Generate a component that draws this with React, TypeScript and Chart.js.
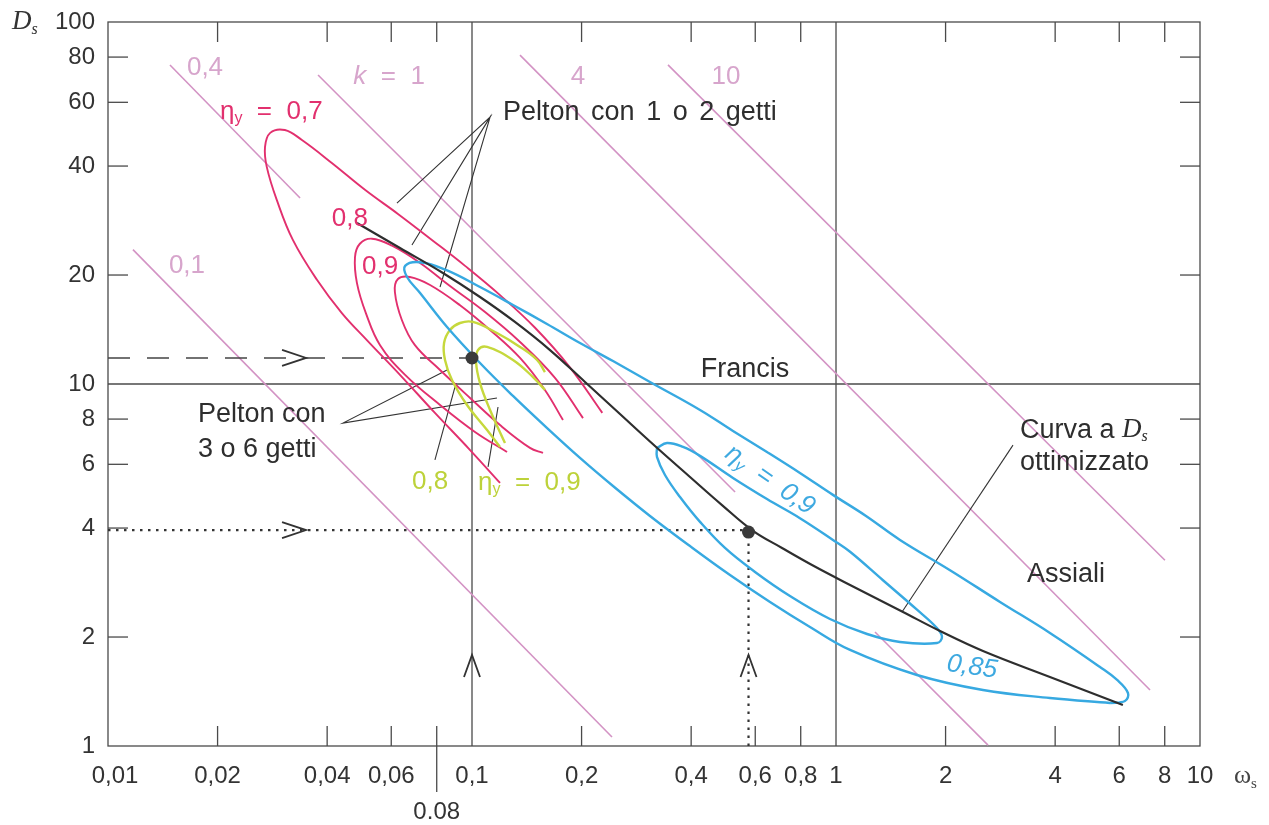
import { useEffect, useRef } from "react";
import { Chart, registerables } from "chart.js";

Chart.register(...registerables);

// ---------- axes ----------
const xTickValues = [0.01, 0.02, 0.04, 0.06, 0.1, 0.2, 0.4, 0.6, 0.8, 1, 2, 4, 6, 8, 10];
const xTickLabels = ["0,01", "0,02", "0,04", "0,06", "0,1", "0,2", "0,4", "0,6", "0,8", "1", "2", "4", "6", "8", "10"];
const xMinorTicks = [0.02, 0.04, 0.06, 0.08, 0.2, 0.4, 0.6, 0.8, 2, 4, 6, 8];
const yTickValues = [1, 2, 4, 6, 8, 10, 20, 40, 60, 80, 100];
const yTickLabels = ["1", "2", "4", "6", "8", "10", "20", "40", "60", "80", "100"];
const yMinorTicks = [2, 4, 6, 8, 20, 40, 60, 80];
const gridX = [0.1, 1];
const gridY = [10];

// ---------- k lines (pink) ----------
const k01Omega = [0.01171, 0.2424];
const k01Ds = [23.5, 1.059];
const k04Omega = [0.0148, 0.0337];
const k04Ds = [76.1, 32.65];
const k1aOmega = [0.03776, 0.528];
const k1aDs = [71.4, 5.03];
const k1bOmega = [1.28, 2.616];
const k1bDs = [2.065, 1.006];
const k4Omega = [0.1355, 7.29];
const k4Ds = [81.0, 1.428];
const k10Omega = [0.3455, 8.01];
const k10Ds = [76.1, 3.26];

// ---------- Pelton efficiency contours (magenta) ----------
const eta07Omega = [0.1194, 0.0988, 0.0791, 0.0634, 0.0515, 0.0439, 0.0375, 0.0322, 0.0291, 0.0273, 0.027, 0.0279, 0.0306, 0.0341, 0.0412, 0.0508, 0.0626, 0.0776, 0.0957, 0.1194, 0.149, 0.186, 0.228];
const eta07Ds = [5.33, 6.57, 8.32, 10.6, 13.2, 15.7, 19.4, 25.0, 32.2, 39.8, 45.2, 49.4, 50.3, 47.2, 40.8, 34.4, 29.5, 25.0, 21.2, 17.6, 14.3, 11.1, 8.32];
const eta08Omega = [0.1248, 0.1019, 0.0817, 0.0655, 0.0559, 0.0511, 0.0483, 0.0477, 0.0492, 0.0531, 0.0603, 0.072, 0.087, 0.1086, 0.1355, 0.169, 0.2018];
const eta08Ds = [6.49, 7.37, 8.75, 10.6, 12.8, 15.7, 19.0, 22.4, 24.4, 25.2, 24.1, 21.6, 18.65, 15.8, 13.06, 10.4, 8.05];
const eta09Omega = [0.1567, 0.1443, 0.1194, 0.0988, 0.0817, 0.0697, 0.0642, 0.0614, 0.0626, 0.0675, 0.0767, 0.0927, 0.1121, 0.1355, 0.1586, 0.1778];
const eta09Ds = [6.45, 6.66, 7.7, 9.15, 10.93, 12.8, 15.0, 17.95, 19.5, 19.75, 18.77, 16.5, 14.1, 11.8, 9.63, 7.95];

// ---------- Pelton 3-6 jets (yellow-green) ----------
const multiJet08Omega = [0.1194, 0.11, 0.0969, 0.0881, 0.0843, 0.0838, 0.087, 0.0927, 0.1006, 0.1171, 0.1355, 0.1509, 0.1586];
const multiJet08Ds = [6.7, 7.46, 8.75, 10.26, 11.65, 12.98, 14.1, 14.74, 14.84, 13.83, 12.66, 11.65, 10.79];
const multiJet09Omega = [0.1232, 0.1121, 0.1052, 0.1026, 0.1039, 0.11, 0.1296, 0.1471, 0.1586];
const multiJet09Ds = [6.87, 8.48, 10.06, 11.5, 12.42, 12.66, 11.65, 10.45, 9.63];

// ---------- Francis / axial contours (blue) ----------
const reaction085Omega = [5.66, 3.87, 2.534, 1.669, 1.093, 0.8483, 0.6587, 0.5114, 0.3971, 0.3083, 0.244, 0.198, 0.1607, 0.1296, 0.1052, 0.0854, 0.072, 0.0663, 0.0655, 0.072, 0.0854, 0.1052, 0.1296, 0.1607, 0.198, 0.244, 0.3083, 0.4231, 0.5212, 0.6462, 0.796, 0.981, 1.209, 1.499, 2.057, 2.822, 3.87, 5.31, 5.92, 6.34, 6.22, 5.66];
const reaction085Ds = [1.315, 1.357, 1.428, 1.571, 1.842, 2.132, 2.5, 2.968, 3.567, 4.32, 5.226, 6.25, 7.56, 9.27, 11.43, 14.37, 17.84, 19.75, 21.2, 21.7, 20.6, 18.53, 16.53, 14.65, 12.98, 11.57, 10.13, 8.48, 7.42, 6.49, 5.68, 4.94, 4.32, 3.71, 3.06, 2.5, 2.052, 1.653, 1.522, 1.401, 1.331, 1.315];
const reaction09Omega = [0.3222, 0.3434, 0.3799, 0.4231, 0.5212, 0.6462, 0.796, 0.981, 1.093, 1.346, 1.669, 1.894, 1.955, 1.894, 1.499, 1.217, 0.9627, 0.7474, 0.5991, 0.4955, 0.4231, 0.3728, 0.339, 0.3222, 0.3222];
const reaction09Ds = [6.66, 6.87, 6.7, 6.33, 5.5, 4.81, 4.26, 3.71, 3.44, 2.87, 2.38, 2.118, 2.0, 1.925, 1.938, 2.039, 2.243, 2.596, 3.025, 3.524, 4.16, 4.873, 5.606, 6.29, 6.66];

// ---------- optimised Ds curve (black) ----------
const optimumOmega = [0.0483, 0.0634, 0.0832, 0.1052, 0.1312, 0.1638, 0.2044, 0.255, 0.3182, 0.3971, 0.4862, 0.5916, 0.7107, 0.8592, 1.093, 1.528, 1.931, 2.534, 3.87, 6.14];
const optimumDs = [27.85, 23.75, 20.26, 17.39, 14.84, 12.41, 10.13, 8.26, 6.74, 5.535, 4.63, 3.93, 3.524, 3.162, 2.785, 2.345, 2.078, 1.83, 1.551, 1.298];

// ---------- worked examples ----------
const exampleOmega = [0.1, 0.575];
const exampleDs = [11.8, 3.9];
const dashedOmega = [0.01, 0.1];
const dashedDs = [11.8, 11.8];
const dottedHOmega = [0.01, 0.575];
const dottedHDs = [3.95, 3.95];
const dottedVOmega = [0.575, 0.575];
const dottedVDs = [1, 3.9];
const arrowRightOmega = [0.035, 0.035];
const arrowRightDs = [11.8, 3.95];
const arrowUpOmega = [0.1, 0.575];
const arrowUpDs = [1.784, 1.784];

// ---------- leader lines ----------
const leader12Omega = [0.0622, 0.1121, 0.0684, 0.1121, 0.0817];
const leader12Ds = [31.6, 54.6, 24.2, 54.6, 18.53];
const leader36Omega = [0.0854, 0.0442, 0.1171];
const leader36Ds = [10.93, 7.8, 9.15];
const leaderY08Omega = [0.0791, 0.0904];
const leaderY08Ds = [6.17, 10.06];
const leaderY09Omega = [0.1107, 0.1179];
const leaderY09Ds = [5.9, 8.64];
const leaderCurvaOmega = [3.064, 1.518];
const leaderCurvaDs = [6.78, 2.345];

// ---------- styles ----------
const SANS = "'Liberation Sans', Arial, sans-serif";
const SERIF = "'Liberation Serif', 'DejaVu Serif', serif";
const C_MAG = "#e2306e";
const C_BLUE = "#37a9e1";
const C_YEL = "#c6d83c";
const C_K = "#d393c4";
const C_KTXT = "#d7a5cc";
const C_INK = "#2e2e2e";
const C_GRID = "#4a4a4a";

const pts = (xs: number[], ys: number[]) => xs.map((x, i) => ({ x, y: ys[i] }));

function series(xs: number[], ys: number[], color: string, width: number, extra: any = {}) {
  return {
    data: pts(xs, ys),
    showLine: true,
    borderColor: color,
    backgroundColor: color,
    borderWidth: width,
    pointRadius: 0,
    pointHoverRadius: 0,
    fill: false,
    tension: 0,
    ...extra,
  };
}

type Part = { t: string; font: string; dy?: number };

function drawParts(ctx: CanvasRenderingContext2D, parts: Part[], x: number, y: number, align: string, color: string) {
  ctx.fillStyle = color;
  ctx.textBaseline = "middle";
  ctx.textAlign = "left";
  let total = 0;
  const ws = parts.map((p) => {
    ctx.font = p.font;
    const w = ctx.measureText(p.t).width;
    total += w;
    return w;
  });
  let cx = align === "left" ? x : align === "center" ? x - total / 2 : x - total;
  parts.forEach((p, i) => {
    ctx.font = p.font;
    ctx.fillText(p.t, cx, y + (p.dy || 0));
    cx += ws[i];
  });
}

const etaParts = (size: number, value: string, italic = false): Part[] => {
  const it = italic ? "italic " : "";
  return [
    { t: "η", font: `${it}${size}px ${SANS}` },
    { t: "y", font: `${it}${Math.round(size * 0.6)}px ${SANS}`, dy: size * 0.25 },
    { t: "  =  " + value, font: `${it}${size}px ${SANS}` },
  ];
};

const plain = (t: string, size = 27, style = ""): Part[] => [{ t, font: `${style}${size}px ${SANS}` }];

const annotations: { parts: Part[]; w: number; d: number; align: string; color: string; rot?: number; wordSpacing?: string }[] = [
  { parts: plain("Francis"), w: 0.5623, d: 10.93, align: "center", color: C_INK },
  { parts: plain("Assiali"), w: 4.285, d: 2.968, align: "center", color: C_INK },
  {
    parts: [
      { t: "Curva a ", font: `27px ${SANS}` },
      { t: "D", font: `italic 27px ${SERIF}` },
      { t: "s", font: `italic 16px ${SERIF}`, dy: 7 },
    ],
    w: 3.203, d: 7.46, align: "left", color: C_INK,
  },
  { parts: plain("ottimizzato"), w: 3.203, d: 6.05, align: "left", color: C_INK },
  { parts: plain("Pelton con 1 o 2 getti"), w: 0.1217, d: 56.1, align: "left", color: C_INK, wordSpacing: "4px" },
  { parts: plain("Pelton con"), w: 0.01767, d: 8.26, align: "left", color: C_INK },
  { parts: plain("3 o 6 getti"), w: 0.01767, d: 6.61, align: "left", color: C_INK },
  { parts: etaParts(26, "0,7"), w: 0.0203, d: 56.4, align: "left", color: C_MAG },
  { parts: plain("0,8", 26), w: 0.0462, d: 28.6, align: "center", color: C_MAG },
  { parts: plain("0,9", 26), w: 0.0559, d: 21.05, align: "center", color: C_MAG },
  { parts: plain("0,4", 26), w: 0.01847, d: 74.6, align: "center", color: C_KTXT },
  {
    parts: [
      { t: "k", font: `italic 26px ${SANS}` },
      { t: "  =  1", font: `26px ${SANS}` },
    ],
    w: 0.0592, d: 70.5, align: "center", color: C_KTXT,
  },
  { parts: plain("4", 26), w: 0.1955, d: 70.5, align: "center", color: C_KTXT },
  { parts: plain("10", 26), w: 0.4985, d: 70.5, align: "center", color: C_KTXT },
  { parts: plain("0,1", 26), w: 0.01648, d: 21.2, align: "center", color: C_KTXT },
  { parts: plain("0,8", 26), w: 0.0767, d: 5.36, align: "center", color: "#bdd23a" },
  { parts: etaParts(26, "0,9"), w: 0.1039, d: 5.33, align: "left", color: "#bdd23a" },
  { parts: etaParts(26, "0,9", true), w: 0.6587, d: 5.43, align: "center", color: "#3ea9e0", rot: 35 },
  { parts: plain("0,85", 26, "italic "), w: 2.364, d: 1.653, align: "center", color: "#3ea9e0", rot: 8 },
];

const framePlugin = {
  id: "cordierFrame",
  beforeDatasetsDraw(chart: any) {
    const { ctx, chartArea: a, scales } = chart;
    const xs = scales.x;
    const ys = scales.y;
    ctx.save();
    ctx.strokeStyle = C_GRID;
    ctx.lineWidth = 1.3;
    const seg = (x1: number, y1: number, x2: number, y2: number) => {
      ctx.beginPath();
      ctx.moveTo(x1, y1);
      ctx.lineTo(x2, y2);
      ctx.stroke();
    };
    ctx.strokeRect(a.left, a.top, a.right - a.left, a.bottom - a.top);
    gridX.forEach((v) => {
      const p = xs.getPixelForValue(v);
      seg(p, a.top, p, a.bottom);
    });
    gridY.forEach((v) => {
      const p = ys.getPixelForValue(v);
      seg(a.left, p, a.right, p);
    });
    const L = 20;
    xMinorTicks.forEach((v) => {
      const p = xs.getPixelForValue(v);
      seg(p, a.bottom, p, a.bottom - L);
      seg(p, a.top, p, a.top + L);
    });
    const p08 = xs.getPixelForValue(0.08);
    seg(p08, a.bottom, p08, a.bottom + 46);
    yMinorTicks.forEach((v) => {
      const p = ys.getPixelForValue(v);
      seg(a.left, p, a.left + L, p);
      seg(a.right, p, a.right - L, p);
    });
    ctx.restore();
  },
  afterDatasetsDraw(chart: any) {
    const { ctx, chartArea: a, scales } = chart;
    const xs = scales.x;
    const ys = scales.y;
    ctx.save();
    xTickValues.forEach((v, i) => {
      const p = xs.getPixelForValue(v);
      drawParts(ctx, plain(xTickLabels[i], 24), p + (i === 0 ? 7 : 0), a.bottom + 30, "center", "#333");
    });
    drawParts(ctx, plain("0.08", 24), xs.getPixelForValue(0.08), a.bottom + 66, "center", "#333");
    yTickValues.forEach((v, i) => {
      const p = ys.getPixelForValue(v);
      drawParts(ctx, plain(yTickLabels[i], 24), a.left - 13, p, "right", "#333");
    });
    drawParts(
      ctx,
      [
        { t: "D", font: `italic 27px ${SERIF}` },
        { t: "s", font: `italic 16px ${SERIF}`, dy: 8 },
      ],
      12, a.top, "left", "#333"
    );
    drawParts(
      ctx,
      [
        { t: "ω", font: `26px ${SERIF}` },
        { t: "s", font: `15px ${SERIF}`, dy: 8 },
      ],
      a.right + 34, a.bottom + 30, "left", "#444"
    );
    annotations.forEach((an) => {
      const px = xs.getPixelForValue(an.w);
      const py = ys.getPixelForValue(an.d);
      ctx.save();
      (ctx as any).wordSpacing = an.wordSpacing || "0px";
      if (an.rot) {
        ctx.translate(px, py);
        ctx.rotate((an.rot * Math.PI) / 180);
        drawParts(ctx, an.parts, 0, 0, an.align, an.color);
      } else {
        drawParts(ctx, an.parts, px, py, an.align, an.color);
      }
      ctx.restore();
    });
    ctx.strokeStyle = "#333";
    ctx.lineWidth = 1.8;
    arrowRightOmega.forEach((v, i) => {
      const px = xs.getPixelForValue(v);
      const py = ys.getPixelForValue(arrowRightDs[i]);
      ctx.beginPath();
      ctx.moveTo(px - 24, py - 8);
      ctx.lineTo(px, py);
      ctx.lineTo(px - 24, py + 8);
      ctx.stroke();
    });
    arrowUpOmega.forEach((v, i) => {
      const px = xs.getPixelForValue(v);
      const py = ys.getPixelForValue(arrowUpDs[i]);
      ctx.beginPath();
      ctx.moveTo(px - 8, py + 22);
      ctx.lineTo(px, py);
      ctx.lineTo(px + 8, py + 22);
      ctx.stroke();
    });
    ctx.restore();
  },
};

export default function App() {
  const ref = useRef<HTMLCanvasElement>(null);
  useEffect(() => {
    const datasets: any[] = [
      series(exampleOmega, exampleDs, "#333", 0, { showLine: false, pointRadius: 6.5, backgroundColor: "#3a3a3a" }),
      series(optimumOmega, optimumDs, C_INK, 2.2, { tension: 0.4 }),
      series(reaction09Omega, reaction09Ds, C_BLUE, 2.4, { tension: 0.4 }),
      series(reaction085Omega, reaction085Ds, C_BLUE, 2.4, { tension: 0.4 }),
      series(multiJet09Omega, multiJet09Ds, C_YEL, 2.4, { tension: 0.4 }),
      series(multiJet08Omega, multiJet08Ds, C_YEL, 2.4, { tension: 0.4 }),
      series(eta09Omega, eta09Ds, C_MAG, 1.9, { tension: 0.4 }),
      series(eta08Omega, eta08Ds, C_MAG, 1.9, { tension: 0.4 }),
      series(eta07Omega, eta07Ds, C_MAG, 1.9, { tension: 0.4 }),
      series(dashedOmega, dashedDs, "#444", 1.5, { borderDash: [22, 17] }),
      series(dottedHOmega, dottedHDs, "#333", 2.2, { borderDash: [2.5, 5.5] }),
      series(dottedVOmega, dottedVDs, "#333", 2.2, { borderDash: [2.5, 5.5] }),
      series(leader12Omega, leader12Ds, "#333", 1.1),
      series(leader36Omega, leader36Ds, "#333", 1.1),
      series(leaderY08Omega, leaderY08Ds, "#333", 1.1),
      series(leaderY09Omega, leaderY09Ds, "#333", 1.1),
      series(leaderCurvaOmega, leaderCurvaDs, "#333", 1.1),
      series(k01Omega, k01Ds, C_K, 1.6),
      series(k04Omega, k04Ds, C_K, 1.6),
      series(k1aOmega, k1aDs, C_K, 1.6),
      series(k1bOmega, k1bDs, C_K, 1.6),
      series(k4Omega, k4Ds, C_K, 1.6),
      series(k10Omega, k10Ds, C_K, 1.6),
    ];
    const chart = new Chart(ref.current as HTMLCanvasElement, {
      type: "scatter",
      data: { datasets },
      options: {
        responsive: true,
        maintainAspectRatio: false,
        animation: false,
        events: [],
        layout: { padding: { left: 108, right: 69, top: 22, bottom: 79 } },
        plugins: { legend: { display: false }, tooltip: { enabled: false } },
        scales: {
          x: { type: "logarithmic", min: 0.01, max: 10, display: false },
          y: { type: "logarithmic", min: 1, max: 100, display: false },
        },
      } as any,
      plugins: [framePlugin],
    });
    return () => chart.destroy();
  }, []);
  return (
    <div style={{ position: "fixed", left: 0, top: 0, width: 1269, height: 825, background: "#fff" }}>
      <canvas ref={ref} />
    </div>
  );
}
